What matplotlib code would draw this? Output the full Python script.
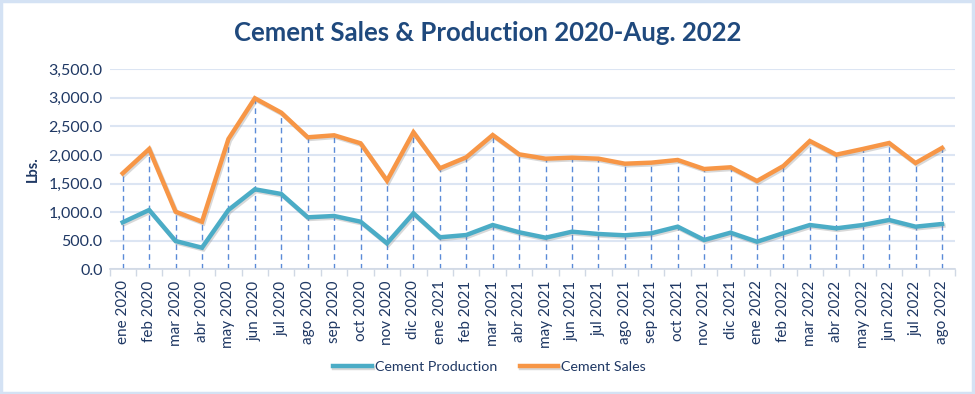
import matplotlib
matplotlib.use("Agg")
import matplotlib.pyplot as plt
import matplotlib.patheffects as pe
from matplotlib.patches import Rectangle
from matplotlib.ticker import FuncFormatter, FixedLocator
import numpy as np

plt.rcParams['font.family'] = ['Lato', 'DejaVu Sans']

months = ['ene 2020', 'feb 2020', 'mar 2020', 'abr 2020', 'may 2020', 'jun 2020',
          'jul 2020', 'ago 2020', 'sep 2020', 'oct 2020', 'nov 2020', 'dic 2020',
          'ene 2021', 'feb 2021', 'mar 2021', 'abr 2021', 'may 2021', 'jun 2021',
          'jul 2021', 'ago 2021', 'sep 2021', 'oct 2021', 'nov 2021', 'dic 2021',
          'ene 2022', 'feb 2022', 'mar 2022', 'abr 2022', 'may 2022', 'jun 2022',
          'jul 2022', 'ago 2022']

sales = [1680, 2105, 1008, 833, 2280, 2993, 2741, 2310, 2345, 2205, 1551, 2397,
         1767, 1960, 2350, 2012, 1936, 1953, 1936, 1848, 1866, 1913, 1755, 1785,
         1545, 1808, 2245, 2006, 2105, 2210, 1860, 2123]

production = [822, 1038, 495, 378, 1038, 1400, 1318, 910, 933, 833, 455, 980,
              560, 600, 775, 648, 553, 658, 618, 595, 630, 746, 513, 641,
              483, 633, 775, 717, 775, 863, 746, 793]

navy = '#1F3864'
teal = '#4BACC6'
orange = '#F79646'

fig = plt.figure(figsize=(9.75, 3.94), dpi=100)
ax = fig.add_axes([109.5 / 975, 1 - 269.3 / 394, (955.2 - 109.5) / 975, 200 / 394])

x = np.arange(len(months))

# drop lines
ax.vlines(x, 0, np.maximum(sales, production), colors='#5B8BD8', linestyles=(0, (4, 3)),
          linewidth=1.0, zorder=2)

shadow = [pe.SimpleLineShadow(offset=(1.0, -1.2), shadow_color='gray', alpha=0.3), pe.Normal()]
ax.plot(x, production, color=teal, linewidth=3.2, label='Cement Production',
        path_effects=shadow, zorder=3, solid_joinstyle='miter')
ax.plot(x, sales, color=orange, linewidth=3.2, label='Cement Sales',
        path_effects=shadow, zorder=3, solid_joinstyle='miter')

ax.set_xlim(-0.5, len(months) - 0.5)
ax.set_ylim(0, 3500)
ax.set_yticks(np.arange(0, 3501, 500))
ax.yaxis.set_major_formatter(FuncFormatter(lambda v, p: '{:,.1f}'.format(v)))
ax.grid(axis='y', color='#DCE5F3', linewidth=1.5)
ax.set_axisbelow(True)

ax.set_xticks(x)
ax.set_xticklabels(months, rotation=90, fontsize=11, color=navy)
ax.tick_params(axis='x', length=0, pad=8)
ax.xaxis.set_minor_locator(FixedLocator(np.arange(-0.5, len(months), 1.0)))
ax.tick_params(axis='x', which='minor', length=5, color='#D0D8E4', width=1)
ax.tick_params(axis='y', length=0, labelsize=11.5, labelcolor=navy, pad=5)

for s in ['left', 'right', 'top']:
    ax.spines[s].set_visible(False)
ax.spines['bottom'].set_color('#D0D8E4')
ax.spines['bottom'].set_linewidth(1.2)

ax.set_ylabel('Lbs.', fontsize=10.5, fontweight='bold', color=navy, labelpad=6)

fig.text(0.5, 1 - 33 / 394, 'Cement Sales & Production 2020-Aug. 2022', ha='center', va='center',
         fontsize=18.5, fontweight='bold', color='#1F497D')

fig.legend(loc='center', bbox_to_anchor=(0.502, 1 - 367 / 394), ncol=2, frameon=False,
           fontsize=10.3, handlelength=2.7, handletextpad=0.2, columnspacing=1.6,
           labelcolor=navy)

fig.patches.append(Rectangle((0.001, 0.002), 0.997, 0.995, transform=fig.transFigure,
                             fill=False, edgecolor='#D4E2F4', linewidth=2.5))

fig.savefig('out.png', dpi=100)
